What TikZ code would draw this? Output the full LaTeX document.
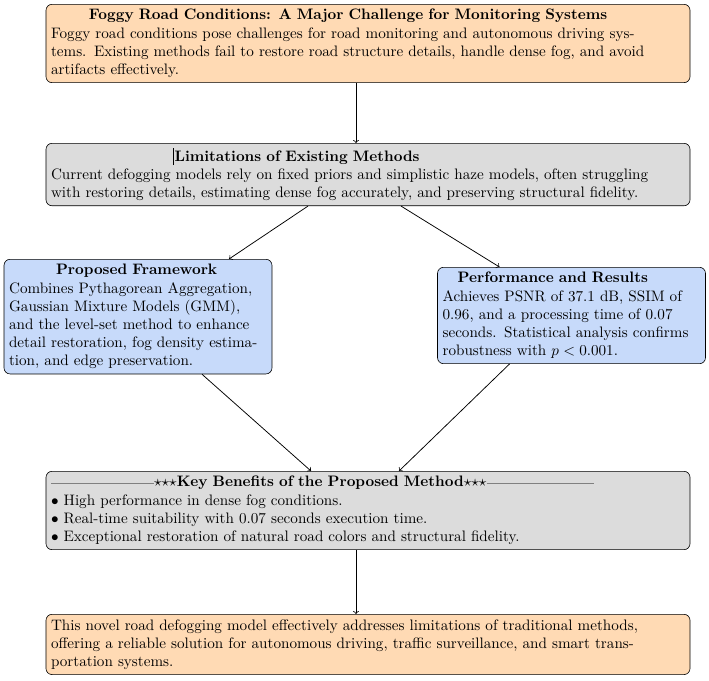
\documentclass[tikz,border=0pt]{standalone}
\usetikzlibrary{calc}
\definecolor{peach}{RGB}{255,218,180}
\definecolor{greybox}{RGB}{220,220,220}
\definecolor{bluebox}{RGB}{199,218,250}
\begin{document}
\begin{tikzpicture}[x=0.66pt,y=-0.66pt,
  boxbase/.style={draw=black, rounded corners=4pt, align=left, anchor=north, inner sep=3.33pt, font=\normalsize},
  widebox/.style={boxbase, text width=418.4pt},
  sidebox/.style={boxbase, text width=170.2pt},
  orangebox/.style={widebox, fill=peach},
  greywide/.style={widebox, fill=greybox},
  bluewide/.style={sidebox, fill=bluebox},
  link/.style={->, line width=0.5pt}
]
\useasboundingbox (0,0) rectangle (709,680);

\node[orangebox] (top) at (368,4) {\hspace*{25pt}\textbf{Foggy Road Conditions: A Major Challenge for Monitoring Systems}\\
Foggy road conditions pose challenges for road monitoring and autonomous driving sys-\\
tems. Existing methods fail to restore road structure details, handle dense fog, and avoid\\
artifacts effectively.};

\node[greywide] (lim) at (368,143) {\hspace*{80.3pt}\rule[-2.5pt]{0.4pt}{11pt}\hspace{0.8pt}\textbf{Limitations of Existing Methods}\\
Current defogging models rely on fixed priors and simplistic haze models, often struggling\\
with restoring details, estimating dense fog accurately, and preserving structural fidelity.};

\node[bluewide] (prop) at (138,259) {\hspace*{31pt}\textbf{Proposed Framework}\\
Combines Pythagorean Aggregation,\\
Gaussian Mixture Models (GMM),\\
and the level-set method to enhance\\
detail restoration, fog density estima-\\
tion, and edge preservation.};

\node[bluewide] (perf) at (571.5,267) {\hspace*{10pt}\textbf{Performance and Results}\\
Achieves PSNR of 37.1 dB, SSIM of\\
0.96, and a processing time of 0.07\\
seconds. Statistical analysis confirms\\
robustness with $p < 0.001$.};

\node[greywide] (key) at (368,471) {{\color{gray}\rule[0.5ex]{68pt}{0.4pt}}${\star}{\star}{\star}$\textbf{Key Benefits of the Proposed Method}${\star}{\star}{\star}${\color{gray}\rule[0.5ex]{71pt}{0.4pt}}\\
$\bullet$ High performance in dense fog conditions.\\
$\bullet$ Real-time suitability with 0.07 seconds execution time.\\
$\bullet$ Exceptional restoration of natural road colors and structural fidelity.};

\node[orangebox] (bot) at (368,614) {This novel road defogging model effectively addresses limitations of traditional methods,\\
offering a reliable solution for autonomous driving, traffic surveillance, and smart trans-\\
portation systems.};

\draw[link] ($(top.south)+(-12,0)$) -- ($(lim.north)+(-12,0)$);
\draw[link] ($(lim.south)+(-60,0)$) -- ($(prop.north)+(91,0)$);
\draw[link] ($(lim.south)+(33,0)$) -- ($(perf.north)+(-72,0)$);
\draw[link] ($(prop.south)+(64,0)$) -- ($(key.north)+(-57,0)$);
\draw[link] ($(perf.south)+(-62,0)$) -- ($(key.north)+(31,0)$);
\draw[link] ($(key.south)+(-12,0)$) -- ($(bot.north)+(-12,0)$);
\end{tikzpicture}
\end{document}
